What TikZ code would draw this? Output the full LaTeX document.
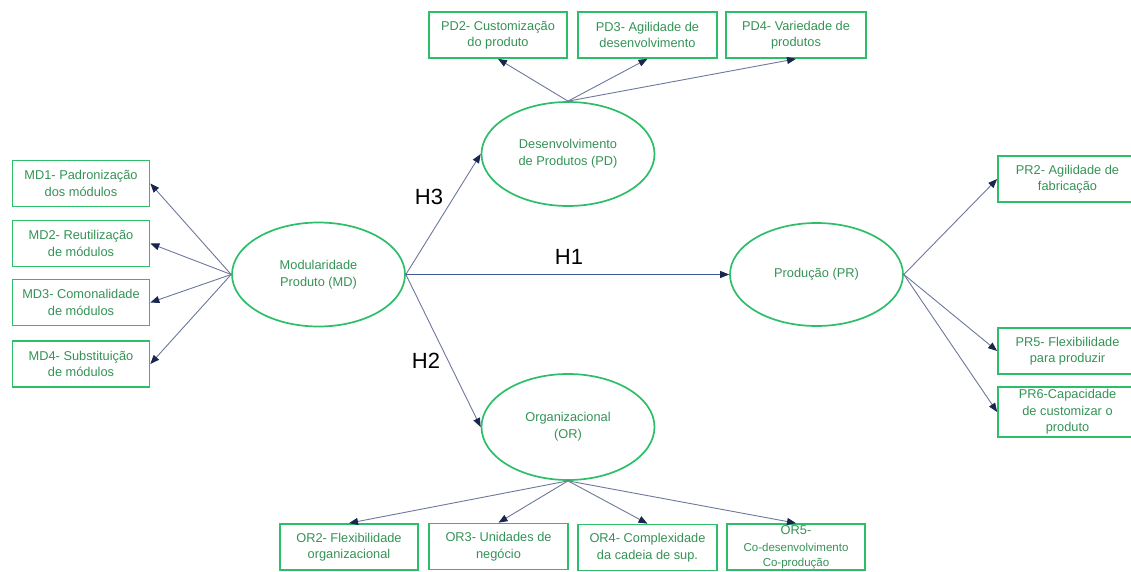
\documentclass[tikz,border=0pt]{standalone}
\usepackage{fontspec}
\setmainfont{Liberation Sans}
\usetikzlibrary{arrows.meta,shapes.geometric}
\definecolor{boxgreen}{RGB}{44,190,104}
\definecolor{txtgreen}{RGB}{52,146,86}
\definecolor{linkgray}{RGB}{108,120,156}
\definecolor{tipnavy}{RGB}{25,38,78}
\definecolor{mainblue}{RGB}{62,88,152}

\begin{document}
\begin{tikzpicture}[x=1pt,y=-1pt,
  item/.style={draw=boxgreen, line width=1.7pt, rectangle, inner sep=0pt,
    minimum height=46pt, minimum width=138pt, align=center, text=txtgreen,
    font=\fontsize{12.8}{16.5}\selectfont},
  construct/.style={draw=boxgreen, line width=1.7pt, ellipse, inner sep=0pt,
    minimum width=173pt, minimum height=104pt, align=center, text=txtgreen,
    font=\fontsize{12.8}{17}\selectfont},
  link/.style={draw=linkgray, line width=0.9pt,
    -{Triangle[length=9pt,width=7pt,color=tipnavy]}},
  hyp/.style={font=\fontsize{22}{22}\selectfont, text=black, inner sep=0pt}
]
\useasboundingbox (0,0) rectangle (1131,572);
\clip (0,0) rectangle (1131,572);

% latent constructs
\node[construct] (md) at (318.5,274.5) {Modularidade\\Produto (MD)};
\node[construct] (pd) at (568,154) {Desenvolvimento\\de Produtos (PD)};
\node[construct, minimum height=106pt] (or) at (568,427) {Organizacional\\(OR)};
\node[construct, minimum height=103pt] (pr) at (816.5,274.5) {Produção (PR)};

% indicators of MD
\node[item, minimum width=137pt] (md1) at (81,183.5) {MD1- Padronização\\dos módulos};
\node[item, minimum width=137pt] (md2) at (81,243.5) {MD2- Reutilização\\de módulos};
\node[item, minimum width=137pt] (md3) at (81,302.5) {MD3- Comonalidade\\de módulos};
\node[item, minimum width=137pt] (md4) at (81,364) {MD4- Substituição\\de módulos};

% indicators of PD
\node[item] (pd2) at (498,35) {PD2- Customização\\do produto};
\node[item, minimum width=139pt] (pd3) at (647.5,35) {PD3- Agilidade de\\desenvolvimento};
\node[item, minimum width=140pt] (pd4) at (796,35) {PD4- Variedade de\\produtos};

% indicators of OR
\node[item] (or2) at (349,547) {OR2- Flexibilidade\\organizacional};
\node[item, minimum width=139pt] (or3) at (498.5,546.5) {OR3- Unidades de\\negócio};
\node[item, minimum width=139pt] (or4) at (647.5,547.5) {OR4- Complexidade\\da cadeia de sup.};
\node[item] (or5) at (796,547) {OR5-\\{\fontsize{11.5}{14}\selectfont Co-desenvolvimento}\\[-1.5pt]{\fontsize{11.5}{14}\selectfont Co-produção}};

% indicators of PR
\node[item, minimum width=139pt] (pr2) at (1067.5,179) {PR2- Agilidade de\\fabricação};
\node[item, minimum width=139pt] (pr5) at (1067.5,351) {PR5- Flexibilidade\\para produzir};
\node[item, minimum width=139pt, minimum height=50pt] (pr6) at (1067.5,412) {PR6-Capacidade\\de customizar o\\produto};

% hypotheses
\node[hyp] (h1) at (569,257) {H1};
\node[hyp] (h2) at (426,361) {H2};
\node[hyp] (h3) at (429,197) {H3};

% connectors
\foreach \t in {md1,md2,md3,md4} \draw[link] (md.west) -- (\t.east);
\foreach \t in {pd2,pd3,pd4} \draw[link] (pd.north) -- (\t.south);
\foreach \t in {or2,or3,or4,or5} \draw[link] (or.south) -- (\t.north);
\foreach \t in {pr2,pr5,pr6} \draw[link] (pr.east) -- (\t.west);
\draw[link] (md.east) -- (pd.west);
\draw[link] (md.east) -- (or.west);
\draw[link, draw=mainblue] (md.east) -- (pr.west);
\end{tikzpicture}
\end{document}
